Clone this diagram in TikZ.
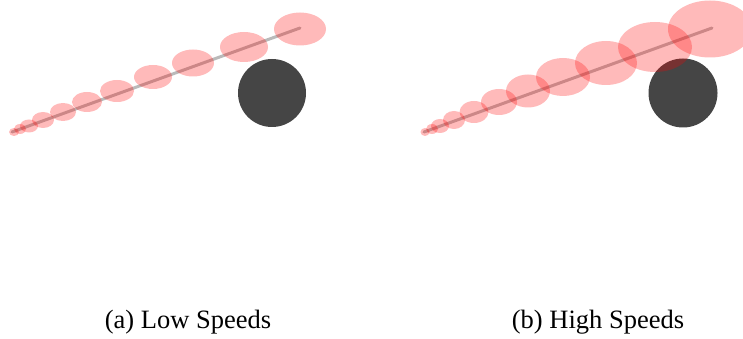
\documentclass[tikz,border=0pt]{standalone}
\usepackage{fontspec}
\setmainfont{Liberation Serif}
\begin{document}
\begin{tikzpicture}[x=1pt,y=-1pt,
  blob/.style={fill=red,fill opacity=0.27},
  traj/.style={draw=black!27,line width=3pt,line cap=round},
  obst/.style={fill=black!73},
  captext/.style={font=\fontsize{26.5}{30}\selectfont,inner sep=0pt,anchor=base}]
\useasboundingbox (0,0) rectangle (743,339);
% left panel
\draw[traj] (12,132) -- (300,28);
\fill[obst] (272,93) circle (34);
\foreach \x/\y/\a/\b in {300/29/26/16.5, 244/47/24/15, 193/63/21/13.5, 153/77/19/12, 117/91/17/11, 87/102/15/10, 63/112/13/9, 43/120/11/8, 29/126/9/6.5, 20/129/6/5, 14/132/5/4}
  \fill[blob] (\x,\y) ellipse [x radius=\a, y radius=\b];
% right panel
\draw[traj] (424,132) -- (712,28);
\fill[obst] (683,93) circle (34.5);
\foreach \x/\y/\a/\b in {710/29/42/28.5, 655/47/37/25, 606/63/31/22, 563/77/27/19, 528/91/22/16.5, 499/102/18/13, 474/112/14.5/11, 454/120/11/9, 440/126/9/7, 432/129/6/5, 425/132/4.5/4}
  \fill[blob] (\x,\y) ellipse [x radius=\a, y radius=\b];
\node[captext] (capa) at (188,328) {(a) Low Speeds};
\node[captext] (capb) at (598,328) {(b) High Speeds};
\end{tikzpicture}
\end{document}
